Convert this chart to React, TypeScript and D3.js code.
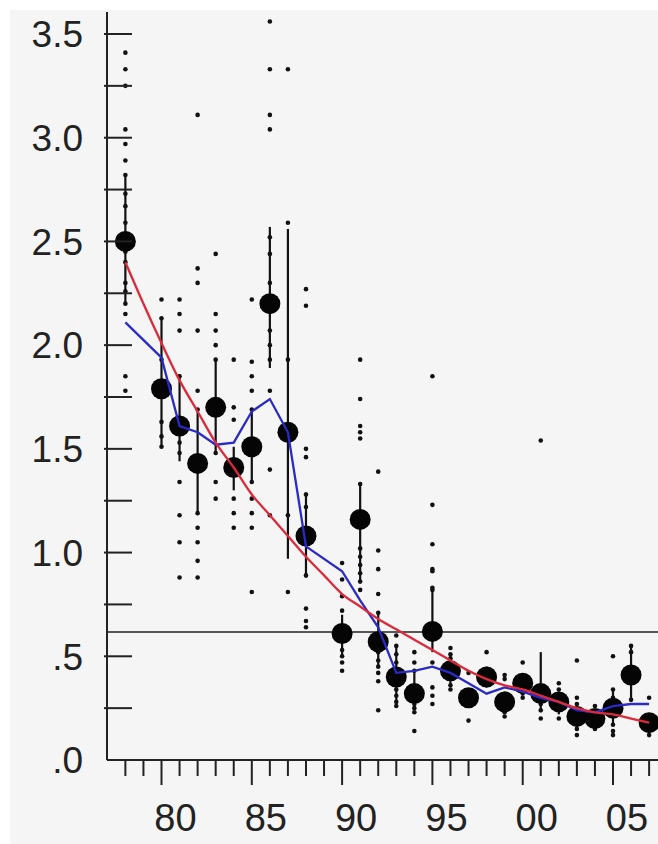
import React from "react";
import * as d3 from "d3";

// years with observations (1979 and 1989 are empty)
const years = [
  1978, 1980, 1981, 1982, 1983, 1984, 1985, 1986, 1987, 1988,
  1990, 1991, 1992, 1993, 1994, 1995, 1996, 1997, 1998, 1999,
  2000, 2001, 2002, 2003, 2004, 2005, 2006, 2007,
];

// big dots
const medians = [
  2.5, 1.79, 1.61, 1.43, 1.7, 1.41, 1.51, 2.2, 1.58, 1.08,
  0.61, 1.16, 0.57, 0.4, 0.32, 0.62, 0.43, 0.3, 0.4, 0.28,
  0.37, 0.32, 0.28, 0.21, 0.2, 0.25, 0.41, 0.18,
];

// vertical bars
const barLow = [
  2.2, 1.51, 1.44, 1.19, 1.48, 1.3, 1.34, 1.89, 0.97, 0.88,
  0.5, 0.86, 0.45, 0.28, 0.25, 0.52, 0.36, 0.3, 0.36, 0.23,
  0.32, 0.23, 0.22, 0.15, 0.16, 0.17, 0.29, 0.15,
];
const barHigh = [
  2.82, 2.13, 1.86, 1.69, 1.93, 1.51, 1.69, 2.57, 2.56, 1.29,
  0.7, 1.33, 0.71, 0.55, 0.43, 0.83, 0.51, 0.3, 0.45, 0.33,
  0.4, 0.52, 0.33, 0.27, 0.23, 0.34, 0.55, 0.22,
];

// blue line (yearly means)
const means = [
  2.11, 1.94, 1.61, 1.58, 1.52, 1.53, 1.68, 1.74, 1.58, 1.03,
  0.91, 0.77, 0.64, 0.42, 0.43, 0.45, 0.42, 0.37, 0.32, 0.35,
  0.33, 0.3, 0.28, 0.24, 0.23, 0.26, 0.27, 0.27,
];

// red line (smoothed fit, every year)
const fitYears = d3.range(1978, 2008);
const fitValues = [
  2.4, 2.2, 2.01, 1.83, 1.68, 1.53, 1.41, 1.28, 1.18, 1.08,
  0.98, 0.89, 0.8, 0.74, 0.68, 0.63, 0.58, 0.53, 0.48, 0.43,
  0.39, 0.36, 0.34, 0.31, 0.28, 0.25, 0.23, 0.22, 0.2, 0.18,
];

// individual observations, same order as years
const observations = [
  [3.41, 3.33, 3.25, 3.04, 2.97, 2.89, 2.82, 2.73, 2.67, 2.59, 2.45, 2.4, 2.3, 2.26, 2.2, 2.15, 1.85, 1.78],
  [2.22, 2.13, 1.93, 1.63, 1.56, 1.51],
  [2.22, 2.15, 2.07, 1.85, 1.53, 1.48, 1.34, 1.18, 1.05, 0.88],
  [3.11, 2.37, 2.3, 2.07, 1.78, 1.69, 1.19, 1.12, 1.05, 0.96, 0.88],
  [2.44, 2.15, 2.07, 2.0, 1.93, 1.48, 1.34, 1.26],
  [1.93, 1.7, 1.64, 1.26, 1.19, 1.12],
  [2.22, 1.92, 1.85, 1.78, 1.69, 1.34, 1.26, 1.19, 1.12, 0.81],
  [3.56, 3.33, 3.11, 3.04, 2.52, 2.44, 2.3, 2.07, 2.0, 1.93, 1.78, 1.4, 1.18],
  [3.33, 2.59, 1.93, 1.18, 0.81],
  [2.27, 2.19, 1.5, 1.46, 1.28, 1.22, 0.89, 0.73, 0.67, 0.64],
  [0.95, 0.87, 0.79, 0.72, 0.53, 0.5, 0.47, 0.43],
  [1.93, 1.74, 1.61, 1.58, 1.55, 1.33, 1.02, 0.98, 0.94, 0.9, 0.86, 0.82],
  [1.39, 1.01, 0.92, 0.8, 0.71, 0.52, 0.48, 0.45, 0.42, 0.38, 0.24],
  [0.6, 0.55, 0.51, 0.47, 0.34, 0.31, 0.28, 0.26],
  [0.52, 0.47, 0.43, 0.27, 0.25, 0.23, 0.14],
  [1.85, 1.23, 1.04, 0.92, 0.91, 0.83, 0.82, 0.47, 0.35, 0.31, 0.27],
  [0.54, 0.51, 0.49, 0.36, 0.34],
  [0.42, 0.19],
  [0.52, 0.36],
  [0.41, 0.39, 0.23, 0.21],
  [0.47, 0.32, 0.3],
  [1.54, 0.27, 0.24, 0.2],
  [0.37, 0.34, 0.2],
  [0.48, 0.3, 0.27, 0.15, 0.12],
  [0.26, 0.15],
  [0.5, 0.34, 0.3, 0.17, 0.14, 0.12],
  [0.55, 0.52, 0.29],
  [0.3, 0.12],
];

const refLevel = 0.617;

const yTickValues = [0, 0.5, 1, 1.5, 2, 2.5, 3, 3.5];
const yTickLabels = [".0", ".5", "1.0", "1.5", "2.0", "2.5", "3.0", "3.5"];
const xTickValues = [1980, 1985, 1990, 1995, 2000, 2005];
const xTickLabels = ["80", "85", "90", "95", "00", "05"];

export default function App() {
  const width = 658;
  const height = 844;

  const x = d3.scaleLinear().domain([1980, 2005]).range([161.5, 613]);
  const y = d3.scaleLinear().domain([0, 3.5]).range([760, 34]);

  const axisX = 107;
  const axisY = 760;
  const font = "'Liberation Sans', Arial, sans-serif";

  const blueLine = d3.line<number>()
    .x((_, i) => x(years[i]))
    .y((d) => y(d));
  const redLine = d3.line<number>()
    .x((_, i) => x(fitYears[i]))
    .y((d) => y(d))
    .curve(d3.curveMonotoneX);

  const minorY = d3.range(0.25, 3.51, 0.25);
  const minorX = d3.range(1978, 2008);

  return (
    <svg
      width={width}
      height={height}
      style={{ position: "absolute", left: 0, top: 0, background: "#fff" }}
    >
      <rect x={10} y={10} width={width - 10} height={height - 10} fill="#f5f5f5" />

      {/* reference level */}
      <line x1={axisX} x2={width} y1={y(refLevel)} y2={y(refLevel)} stroke="#222" strokeWidth={1.5} />

      {/* bars */}
      {years.map((yr, i) => (
        <line
          key={"b" + yr}
          x1={x(yr)} x2={x(yr)}
          y1={y(barLow[i])} y2={y(barHigh[i])}
          stroke="#111" strokeWidth={2.2}
        />
      ))}

      {/* observations */}
      {years.map((yr, i) =>
        observations[i].map((v, j) => (
          <circle key={"o" + yr + "-" + j} cx={x(yr)} cy={y(v)} r={2.3} fill="#111" />
        ))
      )}

      {/* medians */}
      {years.map((yr, i) => (
        <circle key={"m" + yr} cx={x(yr)} cy={y(medians[i])} r={10.5} fill="#050505" />
      ))}

      <path d={blueLine(means)!} fill="none" stroke="#2a2ac8" strokeWidth={2.3} />
      <path d={redLine(fitValues)!} fill="none" stroke="#dd2a3a" strokeWidth={2.3} />

      {/* y axis */}
      <line x1={axisX} x2={axisX} y1={12} y2={axisY} stroke="#222" strokeWidth={2} />
      {minorY.map((v) => (
        <line key={"yt" + v} x1={axisX - 3} x2={132} y1={y(v)} y2={y(v)} stroke="#222" strokeWidth={2} />
      ))}
      {yTickValues.map((v, i) => (
        <text
          key={"yl" + v}
          x={83}
          y={y(v)}
          dy="0.36em"
          textAnchor="end"
          fontFamily={font}
          fontSize={37}
          fill="#222"
        >
          {yTickLabels[i]}
        </text>
      ))}

      {/* x axis */}
      <line x1={axisX} x2={width} y1={axisY} y2={axisY} stroke="#222" strokeWidth={2} />
      {minorX.map((yr) => (
        <line
          key={"xt" + yr}
          x1={x(yr)} x2={x(yr)}
          y1={axisY} y2={yr % 5 === 0 ? 785 : 776}
          stroke="#222" strokeWidth={2}
        />
      ))}
      {xTickValues.map((yr, i) => (
        <text
          key={"xl" + yr}
          x={x(yr) + 14}
          y={831}
          textAnchor="middle"
          fontFamily={font}
          fontSize={38}
          fill="#222"
        >
          {xTickLabels[i]}
        </text>
      ))}
    </svg>
  );
}
